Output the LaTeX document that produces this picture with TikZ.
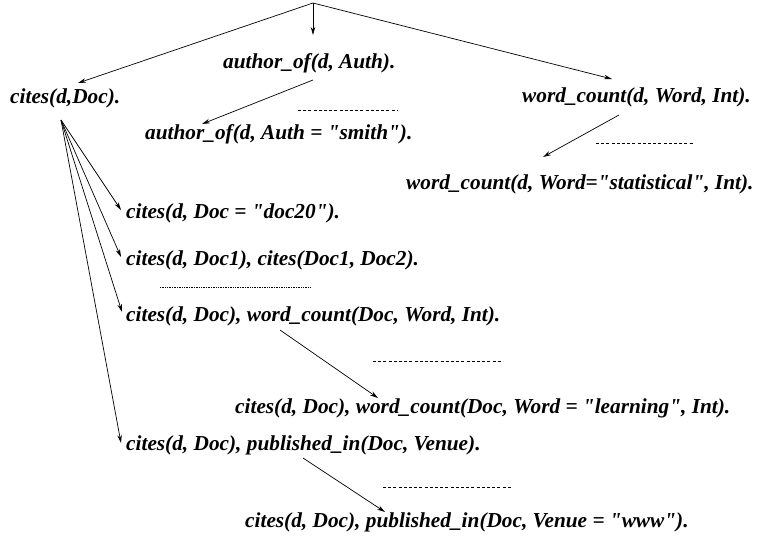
\documentclass[tikz,border=0pt]{standalone}
\usepackage{fontspec}
\setmainfont{Liberation Serif}
\usetikzlibrary{arrows.meta}
\newcommand{\qq}{\textquotedbl}
\tikzset{
  lbl/.style={anchor=west,inner sep=2pt,font=\fontsize{21.3}{23}\selectfont\bfseries\itshape},
  arr/.style={-{Stealth[length=8pt,width=4.5pt]},line width=0.7pt},
  dsh/.style={line width=0.6pt,dash pattern=on 3pt off 2.2pt},
  dtt/.style={line width=0.5pt,dash pattern=on 0.8pt off 0.9pt}
}
\begin{document}
\begin{tikzpicture}[x=1pt,y=-1pt]
\useasboundingbox (0,0) rectangle (757,539);
\coordinate (root) at (313,3);
\node[lbl] (authA) at (221,63) {author\_of(d, Auth).};
\node[lbl] (cites0) at (8,98) {cites(d,Doc).};
\node[lbl] (authB) at (143,134) {author\_of(d, Auth = \qq smith\qq).};
\node[lbl] (wc0) at (520,97) {word\_count(d, Word, Int).};
\node[lbl] (wcB) at (404,184) {word\_count(d, Word=\qq statistical\qq, Int).};
\node[lbl] (doc20) at (124,213) {cites(d, Doc = \qq doc20\qq).};
\node[lbl] (doc1) at (124,260) {cites(d, Doc1), cites(Doc1, Doc2).};
\node[lbl] (wcd) at (124,316) {cites(d, Doc), word\_count(Doc, Word, Int).};
\node[lbl] (learn) at (233,408) {cites(d, Doc), word\_count(Doc, Word = \qq learning\qq, Int).};
\node[lbl] (pub) at (124,445) {cites(d, Doc), published\_in(Doc, Venue).};
\node[lbl] (www) at (243,522) {cites(d, Doc), published\_in(Doc, Venue = \qq www\qq).};
% connectors
\draw[arr] (root) -- (313,35);
\draw[arr] (root) -- (78,83);
\draw[arr] (root) -- (612,79);
\coordinate (a1) at (313,80);
\draw[arr] (a1) -- (202,124);
\coordinate (w1) at (619,115);
\draw[arr] (w1) -- (543,157);
\coordinate (fan) at (61,120);
\draw[arr] (fan) -- ([xshift=-3pt,yshift=3pt]doc20.west);
\draw[arr] (fan) -- ([xshift=-3pt,yshift=3pt]doc1.west);
\draw[arr] (fan) -- ([xshift=-2pt,yshift=4pt]wcd.west);
\draw[arr] (fan) -- ([xshift=-3pt,yshift=2pt]pub.west);
\coordinate (c1) at (280,330);
\draw[arr] (c1) -- (378,398);
\coordinate (p1) at (303,458);
\draw[arr] (p1) -- (385,512);
% dashed separators
\draw[dsh] (298,110) -- (397,110);
\draw[dsh] (596,143) -- (694,143);
\draw[dtt] (160,287) -- (310,287);
\draw[dsh] (373,361) -- (503,361);
\draw[dsh] (383,487) -- (512,487);
\end{tikzpicture}
\end{document}
